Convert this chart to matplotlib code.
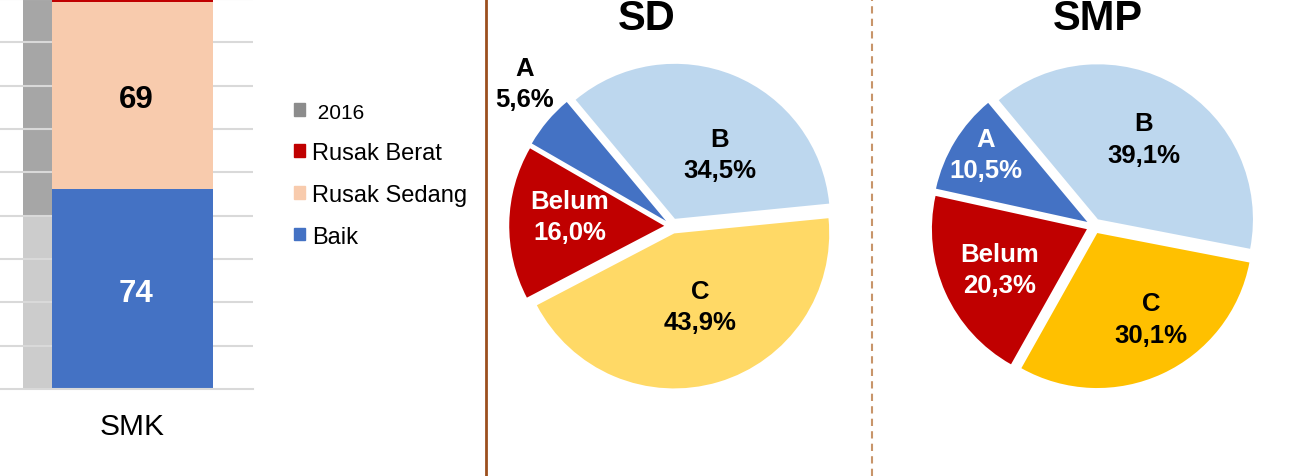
import matplotlib
matplotlib.use("Agg")
import matplotlib.pyplot as plt
from matplotlib.patches import Patch
import numpy as np

plt.rcParams['font.family'] = ['Liberation Sans', 'DejaVu Sans']

# bar chart (SMK)
categories = ['SMK']
baik = [74]
rusak_sedang = [69]
rusak_berat = [3]
y2016_low = [64]
y2016_high = [90]

# pies
pie_labels = ['A', 'B', 'C', 'Belum']
sd_pct = [5.6, 34.5, 43.9, 16.0]
smp_pct = [10.5, 39.1, 30.1, 20.3]

W, H = 1304, 477
fig = plt.figure(figsize=(W / 100, H / 100), dpi=100)


def px_axes(left, top, width, height):
    return fig.add_axes([left / W, 1 - (top + height) / H, width / W, height / H])


# ---- stacked bar
ax = px_axes(0, 0, 253, 390)
x = np.arange(len(categories))
ax.bar(x - 0.59, y2016_low, 0.18, color='#cccccc', zorder=1)
ax.bar(x - 0.59, y2016_high, 0.18, bottom=y2016_low, color='#a6a6a6', zorder=1)
for yv in range(16, 160, 16):
    ax.axhline(yv, color='#d9d9d9', lw=1.5, zorder=2)
b1 = ax.bar(x, baik, 1.0, color='#4472c4', zorder=3)
b2 = ax.bar(x, rusak_sedang, 1.0, bottom=baik, color='#f8cbad', zorder=3)
bot = np.array(baik) + np.array(rusak_sedang)
ax.bar(x, rusak_berat, 1.0, bottom=bot, color='#c00000', zorder=3)
t1 = ax.bar_label(b1, label_type='center', color='white', fontsize=22.5, fontweight='bold')
t2 = ax.bar_label(b2, label_type='center', color='black', fontsize=22.5, fontweight='bold')
for t in t1 + t2:
    t.xyann = (2.5, -3)  # nudge like the original
ax.set_xlim(-0.823, 0.748)
ax.set_ylim(0, 144)
ax.set_xticks(x)
ax.set_xticklabels(categories, fontsize=21.5)
ax.tick_params(axis='x', length=0, pad=16.5)
ax.set_yticks([])
for s in ['top', 'left', 'right']:
    ax.spines[s].set_visible(False)
ax.spines['bottom'].set_color('#d9d9d9')
ax.spines['bottom'].set_linewidth(1.5)
ax.spines['bottom'].set_zorder(4)

handles = [Patch(color='#8c8c8c'), Patch(color='#c00000'),
           Patch(color='#f8cbad'), Patch(color='#4472c4')]
leg = fig.legend(handles, [' 2016', 'Rusak Berat', 'Rusak Sedang', 'Baik'],
                 loc='upper left', bbox_to_anchor=(294 / W, 1 - 104 / H),
                 frameon=False, fontsize=17, handlelength=0.45, handleheight=0.45,
                 handletextpad=0.3, labelspacing=0.84, borderpad=0, borderaxespad=0)
leg.get_texts()[0].set_fontsize(15)

# ---- separators
fig.add_artist(plt.Line2D([486 / W, 486 / W], [0, 1], color='#9c4f1e', lw=2))
fig.add_artist(plt.Line2D([872 / W, 872 / W], [0, 1], color='#c8956a', lw=1.5,
                          ls=(0, (3.5, 2.5))))

# ---- pies
R = 155
L = 1.4
S = 2 * L * R


def draw_pie(cx, cy, vals, colors, start, txt_pos, txt_colors, title, title_x):
    a = px_axes(cx - S / 2, cy - S / 2, S, S)
    a.pie(vals, colors=colors, startangle=start, counterclock=False,
          explode=[0.05] * len(vals), radius=1.0)
    a.set_xlim(-L, L)
    a.set_ylim(-L, L)
    a.set_aspect('equal')
    a.axis('off')
    for lab, v, (tx, ty), c in zip(pie_labels, vals, txt_pos, txt_colors):
        a.text(tx, ty, f"{lab}\n{v:.1f}%".replace('.', ','), ha='center', va='center',
               fontsize=18.5, fontweight='bold', color=c, linespacing=1.4)
    fig.text(title_x / W, 1 - 30 / H, title, ha='center', va='baseline',
             fontsize=30, fontweight='bold')


draw_pie(672, 227, sd_pct, ['#4472c4', '#bdd7ee', '#ffd966', '#c00000'], 150,
         [(-0.95, 0.92), (0.31, 0.46), (0.18, -0.52), (-0.66, 0.06)],
         ['black', 'black', 'black', 'white'], 'SD', 647)
draw_pie(1094, 227, smp_pct, ['#4472c4', '#bdd7ee', '#ffc000', '#c00000'], 167.6,
         [(-0.70, 0.46), (0.32, 0.56), (0.37, -0.60), (-0.61, -0.28)],
         ['white', 'black', 'black', 'white'], 'SMP', 1098)

fig.savefig('out.png', dpi=100)
